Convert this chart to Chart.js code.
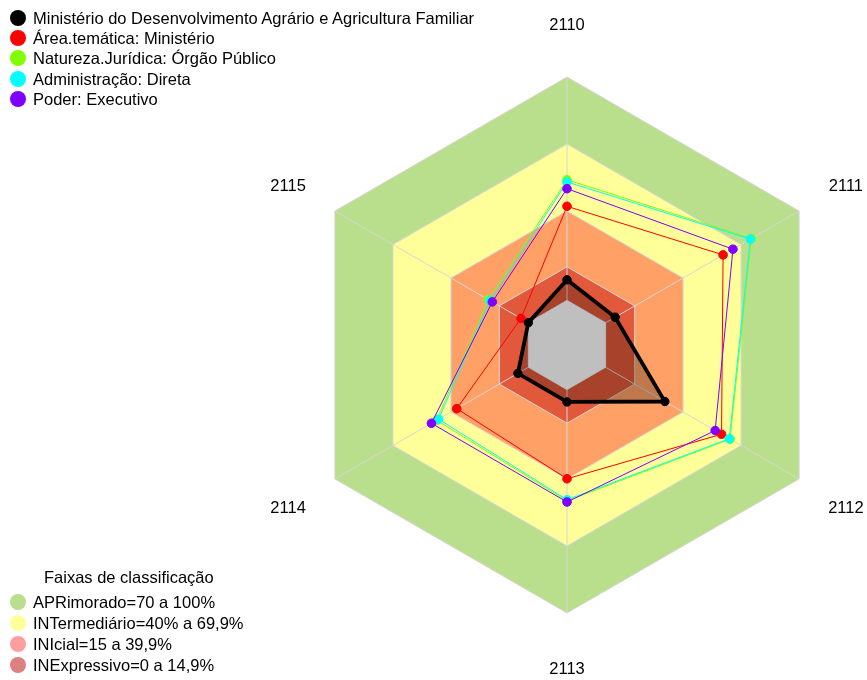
<!DOCTYPE html>
<html>
<head>
<meta charset="utf-8">
<script src="https://cdn.jsdelivr.net/npm/chart.js@4/dist/chart.umd.min.js"></script>
<style>
html,body{margin:0;padding:0;background:#fff;}
#wrap{position:relative;width:867px;height:680px;overflow:hidden;font-family:"Liberation Sans",Arial,sans-serif;color:#000;}
#c{position:absolute;left:0;top:0;}
.row{position:absolute;left:10px;height:20px;line-height:20px;font-size:16.5px;white-space:nowrap;}
.dot{position:absolute;left:0;top:2px;width:16px;height:16px;border-radius:50%;}
.txt{position:absolute;left:23px;top:0;}
.ttl{position:absolute;left:44px;height:20px;line-height:20px;font-size:16.5px;white-space:nowrap;}
</style>
</head>
<body>
<div id="wrap">
  <canvas id="c" width="867" height="680"></canvas>
  <div id="legTop"></div>
  <div id="legBot"></div>
</div>
<script>
// ---- data ----
const categories = ['2110', '2111', '2112', '2113', '2114', '2115'];
const seriesNames = [
  'Ministério do Desenvolvimento Agrário e Agricultura Familiar',
  'Área.temática: Ministério',
  'Natureza.Jurídica: Órgão Público',
  'Administração: Direta',
  'Poder: Executivo'
];
const valuesMDA      = [9.2, 4.9, 30.6, 5.5, 5.4, 0.0];
const valuesArea     = [42.1, 60.7, 59.9, 39.9, 37.0, 3.8];
const valuesNatureza = [54.0, 75.3, 64.3, 49.8, 47.4, 20.7];
const valuesAdmin    = [53.0, 74.8, 63.9, 49.3, 46.4, 19.8];
const valuesPoder    = [50.0, 65.8, 56.6, 50.3, 50.1, 18.6];
const bandNames  = ['APRimorado=70 a 100%', 'INTermediário=40% a 69,9%', 'INIcial=15 a 39,9%', 'INExpressivo=0 a 14,9%'];
const bandUpper  = [100, 70, 40, 15];
const coreValues = [0, 0, 0, 0, 0, 0];
const gridTicks  = [-20, 0, 15, 40, 70, 100];
const legendTitle = 'Faixas de classificação';

// ---- styles ----
const seriesColors = ['#000000', '#ff0000', '#80ff00', '#00ffff', '#8000ff'];
const bandFill   = ['rgb(185,223,140)', 'rgb(255,255,153)', 'rgb(255,161,102)', 'rgb(226,88,58)'];
const bandLegend = ['rgb(185,223,140)', 'rgb(255,255,153)', 'rgb(255,158,158)', 'rgb(220,128,128)'];

const seriesValues = [valuesMDA, valuesArea, valuesNatureza, valuesAdmin, valuesPoder];
const drawOrder = [0, 4, 3, 2, 1];

const datasets = seriesValues.map((vals, k) => ({
  label: seriesNames[k],
  data: vals,
  borderColor: seriesColors[k],
  backgroundColor: k === 0 ? 'rgba(0,0,0,0.25)' : seriesColors[k],
  pointBackgroundColor: seriesColors[k],
  pointBorderColor: seriesColors[k],
  borderWidth: k === 0 ? 3.8 : 1,
  pointRadius: k === 0 ? 4.2 : 4.3,
  pointBorderWidth: 1,
  fill: k === 0 ? 'origin' : false,
  tension: 0,
  order: drawOrder[k]
}));
datasets.push({
  label: 'core',
  data: coreValues,
  borderWidth: 0,
  borderColor: 'rgba(0,0,0,0)',
  backgroundColor: 'rgb(191,191,191)',
  pointRadius: 0,
  fill: 'start',
  order: 10
});

const bandPlugin = {
  id: 'bands',
  beforeDraw(chart) {
    const s = chart.scales.r, ctx = chart.ctx, n = categories.length;
    ctx.save();
    bandUpper.forEach((v, k) => {
      ctx.beginPath();
      for (let i = 0; i < n; i++) {
        const p = s.getPointPositionForValue(i, v);
        if (i === 0) ctx.moveTo(p.x, p.y); else ctx.lineTo(p.x, p.y);
      }
      ctx.closePath();
      ctx.fillStyle = bandFill[k];
      ctx.fill();
    });
    ctx.restore();
  },
  afterDraw(chart) {
    const s = chart.scales.r, ctx = chart.ctx;
    ctx.save();
    ctx.font = '16.5px "Liberation Sans", Arial, sans-serif';
    ctx.fillStyle = '#000';
    ctx.textAlign = 'center';
    ctx.textBaseline = 'middle';
    categories.forEach((c, i) => {
      const p = s.getPointPositionForValue(i, 124.2);
      ctx.fillText(c, p.x, p.y + 2);
    });
    ctx.restore();
  }
};

new Chart(document.getElementById('c'), {
  type: 'radar',
  data: { labels: categories, datasets: datasets },
  plugins: [bandPlugin],
  options: {
    responsive: false,
    devicePixelRatio: 1,
    animation: false,
    events: [],
    layout: { padding: { top: 77, bottom: 67, left: 267, right: 0 } },
    plugins: { legend: { display: false }, title: { display: false }, tooltip: { enabled: false } },
    elements: { line: { tension: 0 } },
    scales: {
      r: {
        min: -20,
        max: 100,
        startAngle: 0,
        ticks: { display: false },
        afterBuildTicks: (scale) => { scale.ticks = gridTicks.map(v => ({ value: v })); },
        grid: { color: '#d6d6d6', lineWidth: 1 },
        angleLines: { color: '#d6d6d6', lineWidth: 1 },
        pointLabels: { display: false }
      }
    }
  }
});

// ---- legends (HTML text) ----
const legTop = document.getElementById('legTop');
seriesNames.forEach((name, k) => {
  const r = document.createElement('div');
  r.className = 'row';
  r.style.top = (8 + k * 20.2) + 'px';
  r.innerHTML = '<span class="dot" style="background:' + seriesColors[k] + '"></span><span class="txt"></span>';
  r.querySelector('.txt').textContent = name;
  legTop.appendChild(r);
});
const legBot = document.getElementById('legBot');
const t = document.createElement('div');
t.className = 'ttl';
t.style.top = '566.5px';
t.textContent = legendTitle;
legBot.appendChild(t);
bandNames.forEach((name, k) => {
  const r = document.createElement('div');
  r.className = 'row';
  r.style.top = (591.7 + k * 21) + 'px';
  r.innerHTML = '<span class="dot" style="background:' + bandLegend[k] + '"></span><span class="txt"></span>';
  r.querySelector('.txt').textContent = name;
  legBot.appendChild(r);
});
</script>
</body>
</html>
